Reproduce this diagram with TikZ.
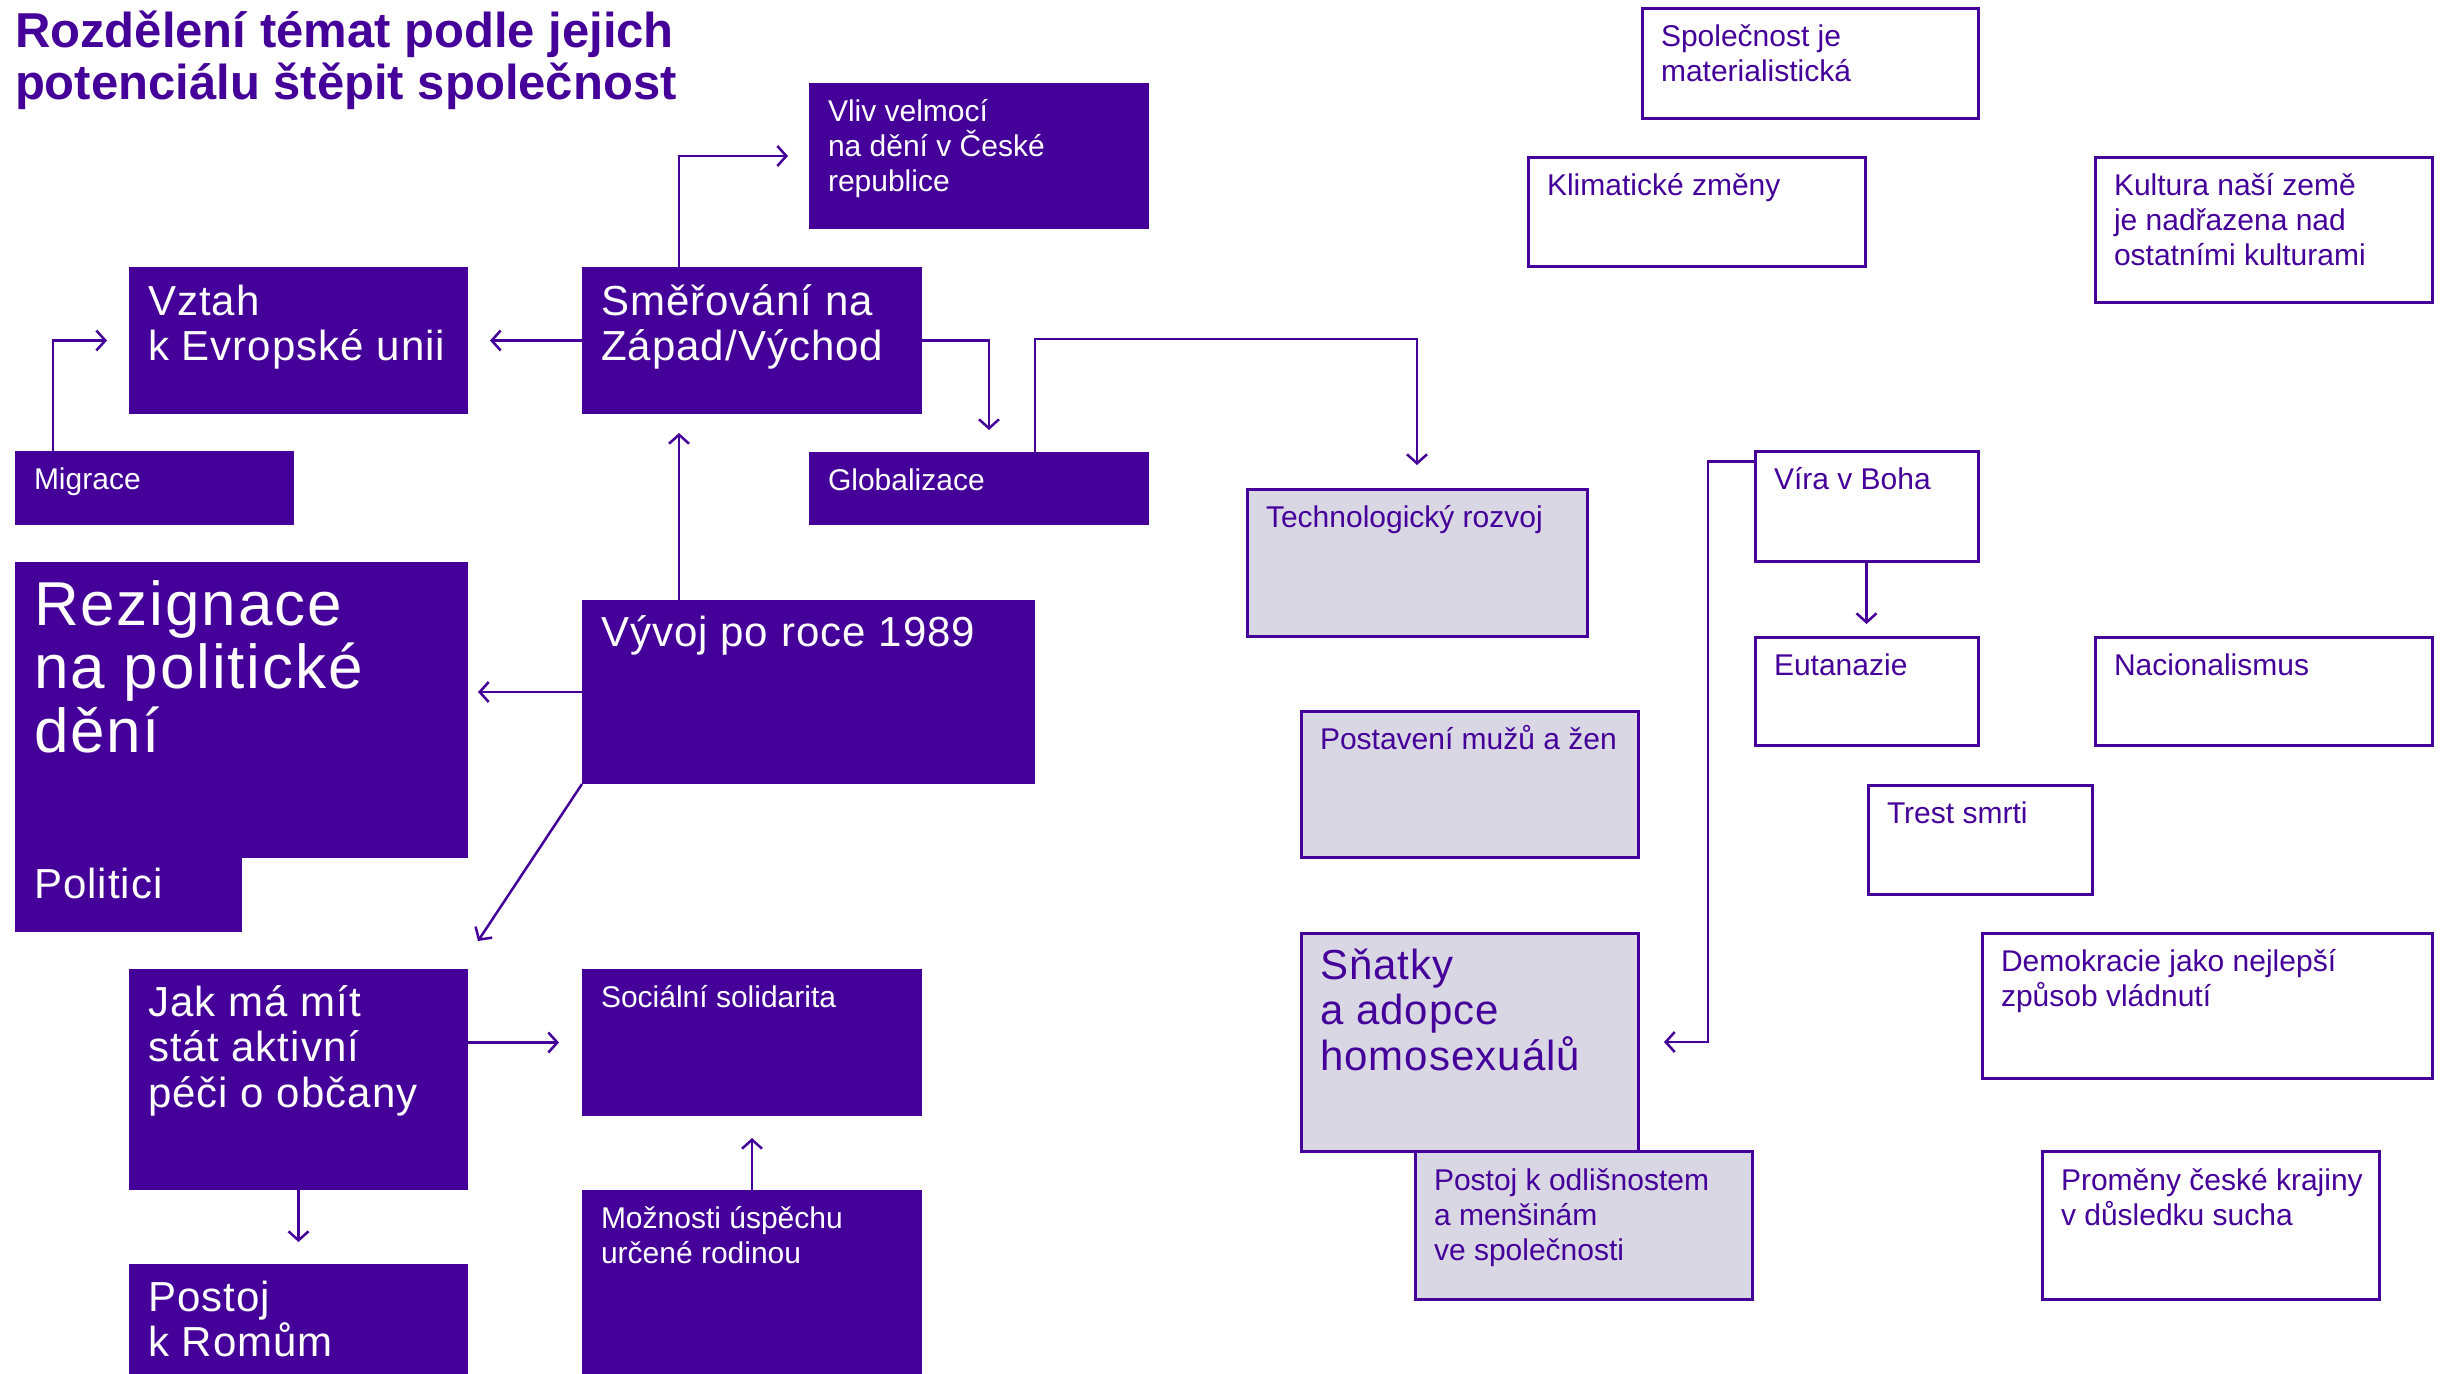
\documentclass[tikz,border=0pt]{standalone}
\usepackage{fontspec}
\setmainfont{Liberation Sans}
\newfontfamily\mdfont[LetterSpace=2.5]{Liberation Sans}
\newfontfamily\bgfont[LetterSpace=3]{Liberation Sans}
\usetikzlibrary{arrows.meta,calc}
\definecolor{vio}{HTML}{440099}
\definecolor{lav}{HTML}{DAD7E5}
\newcommand\bx[6]{\node[#6, anchor=north west, inner sep=0pt, outer sep=0pt, minimum width=#4-#2, minimum height=#5-#3] (#1) at (#2,#3) {};}
\newcommand\tx[5]{\node[lbl,#4] (#1) at (#2,#3) {\parbox[t]{700pt}{\raggedright #5}};}
\begin{document}
\begin{tikzpicture}[x=1pt,y=-1pt,
  dk/.style={fill=vio},
  gy/.style={fill=lav, draw=vio, line width=3pt},
  ol/.style={fill=white, draw=vio, line width=3pt},
  lbl/.style={anchor=base west, inner sep=0pt, outer sep=0pt},
  sm/.style={font=\fontsize{30}{35}\selectfont},
  md/.style={font=\mdfont\fontsize{42}{45.5}\selectfont},
  bg/.style={font=\bgfont\fontsize{62}{63.5}\selectfont},
  wt/.style={text=white},
  vt/.style={text=vio},
  con/.style={draw=vio, line width=2.5pt, -{Straight Barb[length=9pt,width=20pt]}}]
\clip (0,0) rectangle (2448,1373);
\fill[white] (0,0) rectangle (2448,1373);
% title
\node[lbl, text=vio, font=\fontsize{49}{52}\selectfont\bfseries] (title) at (15,47)
  {\parbox[t]{1000pt}{\raggedright Rozdělení témat podle jejich\\potenciálu štěpit společnost}};
% dark boxes
\bx{vliv}{809}{83}{1149}{229}{dk}
\bx{vztah}{129}{267}{468}{414}{dk}
\bx{smer}{582}{267}{922}{414}{dk}
\bx{migrace}{15}{451}{294}{525}{dk}
\bx{glob}{809}{452}{1149}{525}{dk}
\bx{rez}{15}{562}{468}{858}{dk}
\bx{politici}{15}{857}{242}{932}{dk}
\bx{vyvoj}{582}{600}{1035}{784}{dk}
\bx{jak}{129}{969}{468}{1190}{dk}
\bx{soc}{582}{969}{922}{1116}{dk}
\bx{romy}{129}{1264}{468}{1390}{dk}
\bx{moz}{582}{1190}{922}{1390}{dk}
% gray boxes
\bx{tech}{1247}{489}{1587}{636}{gy}
\bx{post}{1301}{711}{1638}{857}{gy}
\bx{snatky}{1301}{933}{1638}{1151}{gy}
\bx{odlis}{1415}{1151}{1752}{1299}{gy}
% outlined boxes
\bx{spol}{1642}{8}{1978}{118}{ol}
\bx{klima}{1528}{157}{1865}{266}{ol}
\bx{kult}{2095}{157}{2432}{302}{ol}
\bx{vira}{1755}{451}{1978}{561}{ol}
\bx{eut}{1755}{637}{1978}{745}{ol}
\bx{nac}{2095}{637}{2432}{745}{ol}
\bx{trest}{1868}{785}{2092}{894}{ol}
\bx{demo}{1982}{933}{2432}{1078}{ol}
\bx{prom}{2042}{1151}{2379}{1299}{ol}
% connectors
\coordinate (c1) at (679,157);
\coordinate (c2) at (53,341);
\coordinate (c3) at (989,430);
\coordinate (c4) at (1035,339);
\coordinate (c6) at (478,941);
\coordinate (c7) at (1708,461.5);
\draw[con, shorten >=21pt] (smer.north -| c1) |- (vliv.west);
\draw[con, shorten >=22pt] (smer.west) -- (vztah.east);
\draw[con, shorten >=22pt] (migrace.north -| c2) |- (vztah.west);
\draw[con, shorten >=22pt] (smer.east) -| (c3 |- glob.north);
\draw[con, shorten >=24pt] (glob.north -| c4) -- (c4) -| (tech.north);
\draw[con, shorten >=19pt] (vyvoj.north -| c1) -- (smer.south -| c1);
\draw[con, shorten >=10pt] (vyvoj.west) -- (vyvoj.west -| rez.east);
\draw[con] (vyvoj.south west) -- (c6);
\draw[con, shorten >=23pt] (soc.west -| jak.east) -- (soc.west);
\draw[con, shorten >=22pt] (jak.south) -- (romy.north);
\draw[con, shorten >=22pt] (moz.north) -- (soc.south);
\draw[con, shorten >=13pt] (vira.south) -- (eut.north);
\draw[con, shorten >=26pt] (vira.west |- c7) -- (c7) |- (snatky.east);
% texts
\tx{vlivt}{828}{121}{sm,wt}{Vliv velmocí\\na dění v České\\republice}
\tx{vztaht}{148}{315}{md,wt}{Vztah\\k Evropské unii}
\tx{smert}{601}{315}{md,wt}{Směřování na\\Západ/Východ}
\tx{migracet}{34}{489}{sm,wt}{Migrace}
\tx{globt}{828}{490}{sm,wt}{Globalizace}
\tx{rezt}{34}{625}{bg,wt}{Rezignace\\na politické\\dění}
\tx{politicit}{34}{898}{md,wt}{Politici}
\tx{vyvojt}{601}{646}{md,wt}{Vývoj po roce 1989}
\tx{jakt}{148}{1016}{md,wt}{Jak má mít\\stát aktivní\\péči o občany}
\tx{soct}{601}{1007}{sm,wt}{Sociální solidarita}
\tx{romyt}{148}{1311}{md,wt}{Postoj\\k Romům}
\tx{mozt}{601}{1228}{sm,wt}{Možnosti úspěchu\\určené rodinou}
\tx{techt}{1266}{527}{sm,vt}{Technologický rozvoj}
\tx{postt}{1320}{749}{sm,vt}{Postavení mužů a žen}
\tx{snatkyt}{1320}{979}{md,vt}{Sňatky\\a adopce\\homosexuálů}
\tx{odlist}{1434}{1190}{sm,vt}{Postoj k odlišnostem\\a menšinám\\ve společnosti}
\tx{spolt}{1661}{46}{sm,vt}{Společnost je\\materialistická}
\tx{klimat}{1547}{195}{sm,vt}{Klimatické změny}
\tx{kultt}{2114}{195}{sm,vt}{Kultura naší země\\je nadřazena nad\\ostatními kulturami}
\tx{virat}{1774}{489}{sm,vt}{Víra v Boha}
\tx{eutt}{1774}{675}{sm,vt}{Eutanazie}
\tx{nact}{2114}{675}{sm,vt}{Nacionalismus}
\tx{trestt}{1887}{823}{sm,vt}{Trest smrti}
\tx{demot}{2001}{971}{sm,vt}{Demokracie jako nejlepší\\způsob vládnutí}
\tx{promt}{2061}{1190}{sm,vt}{Proměny české krajiny\\v důsledku sucha}
\end{tikzpicture}
\end{document}
